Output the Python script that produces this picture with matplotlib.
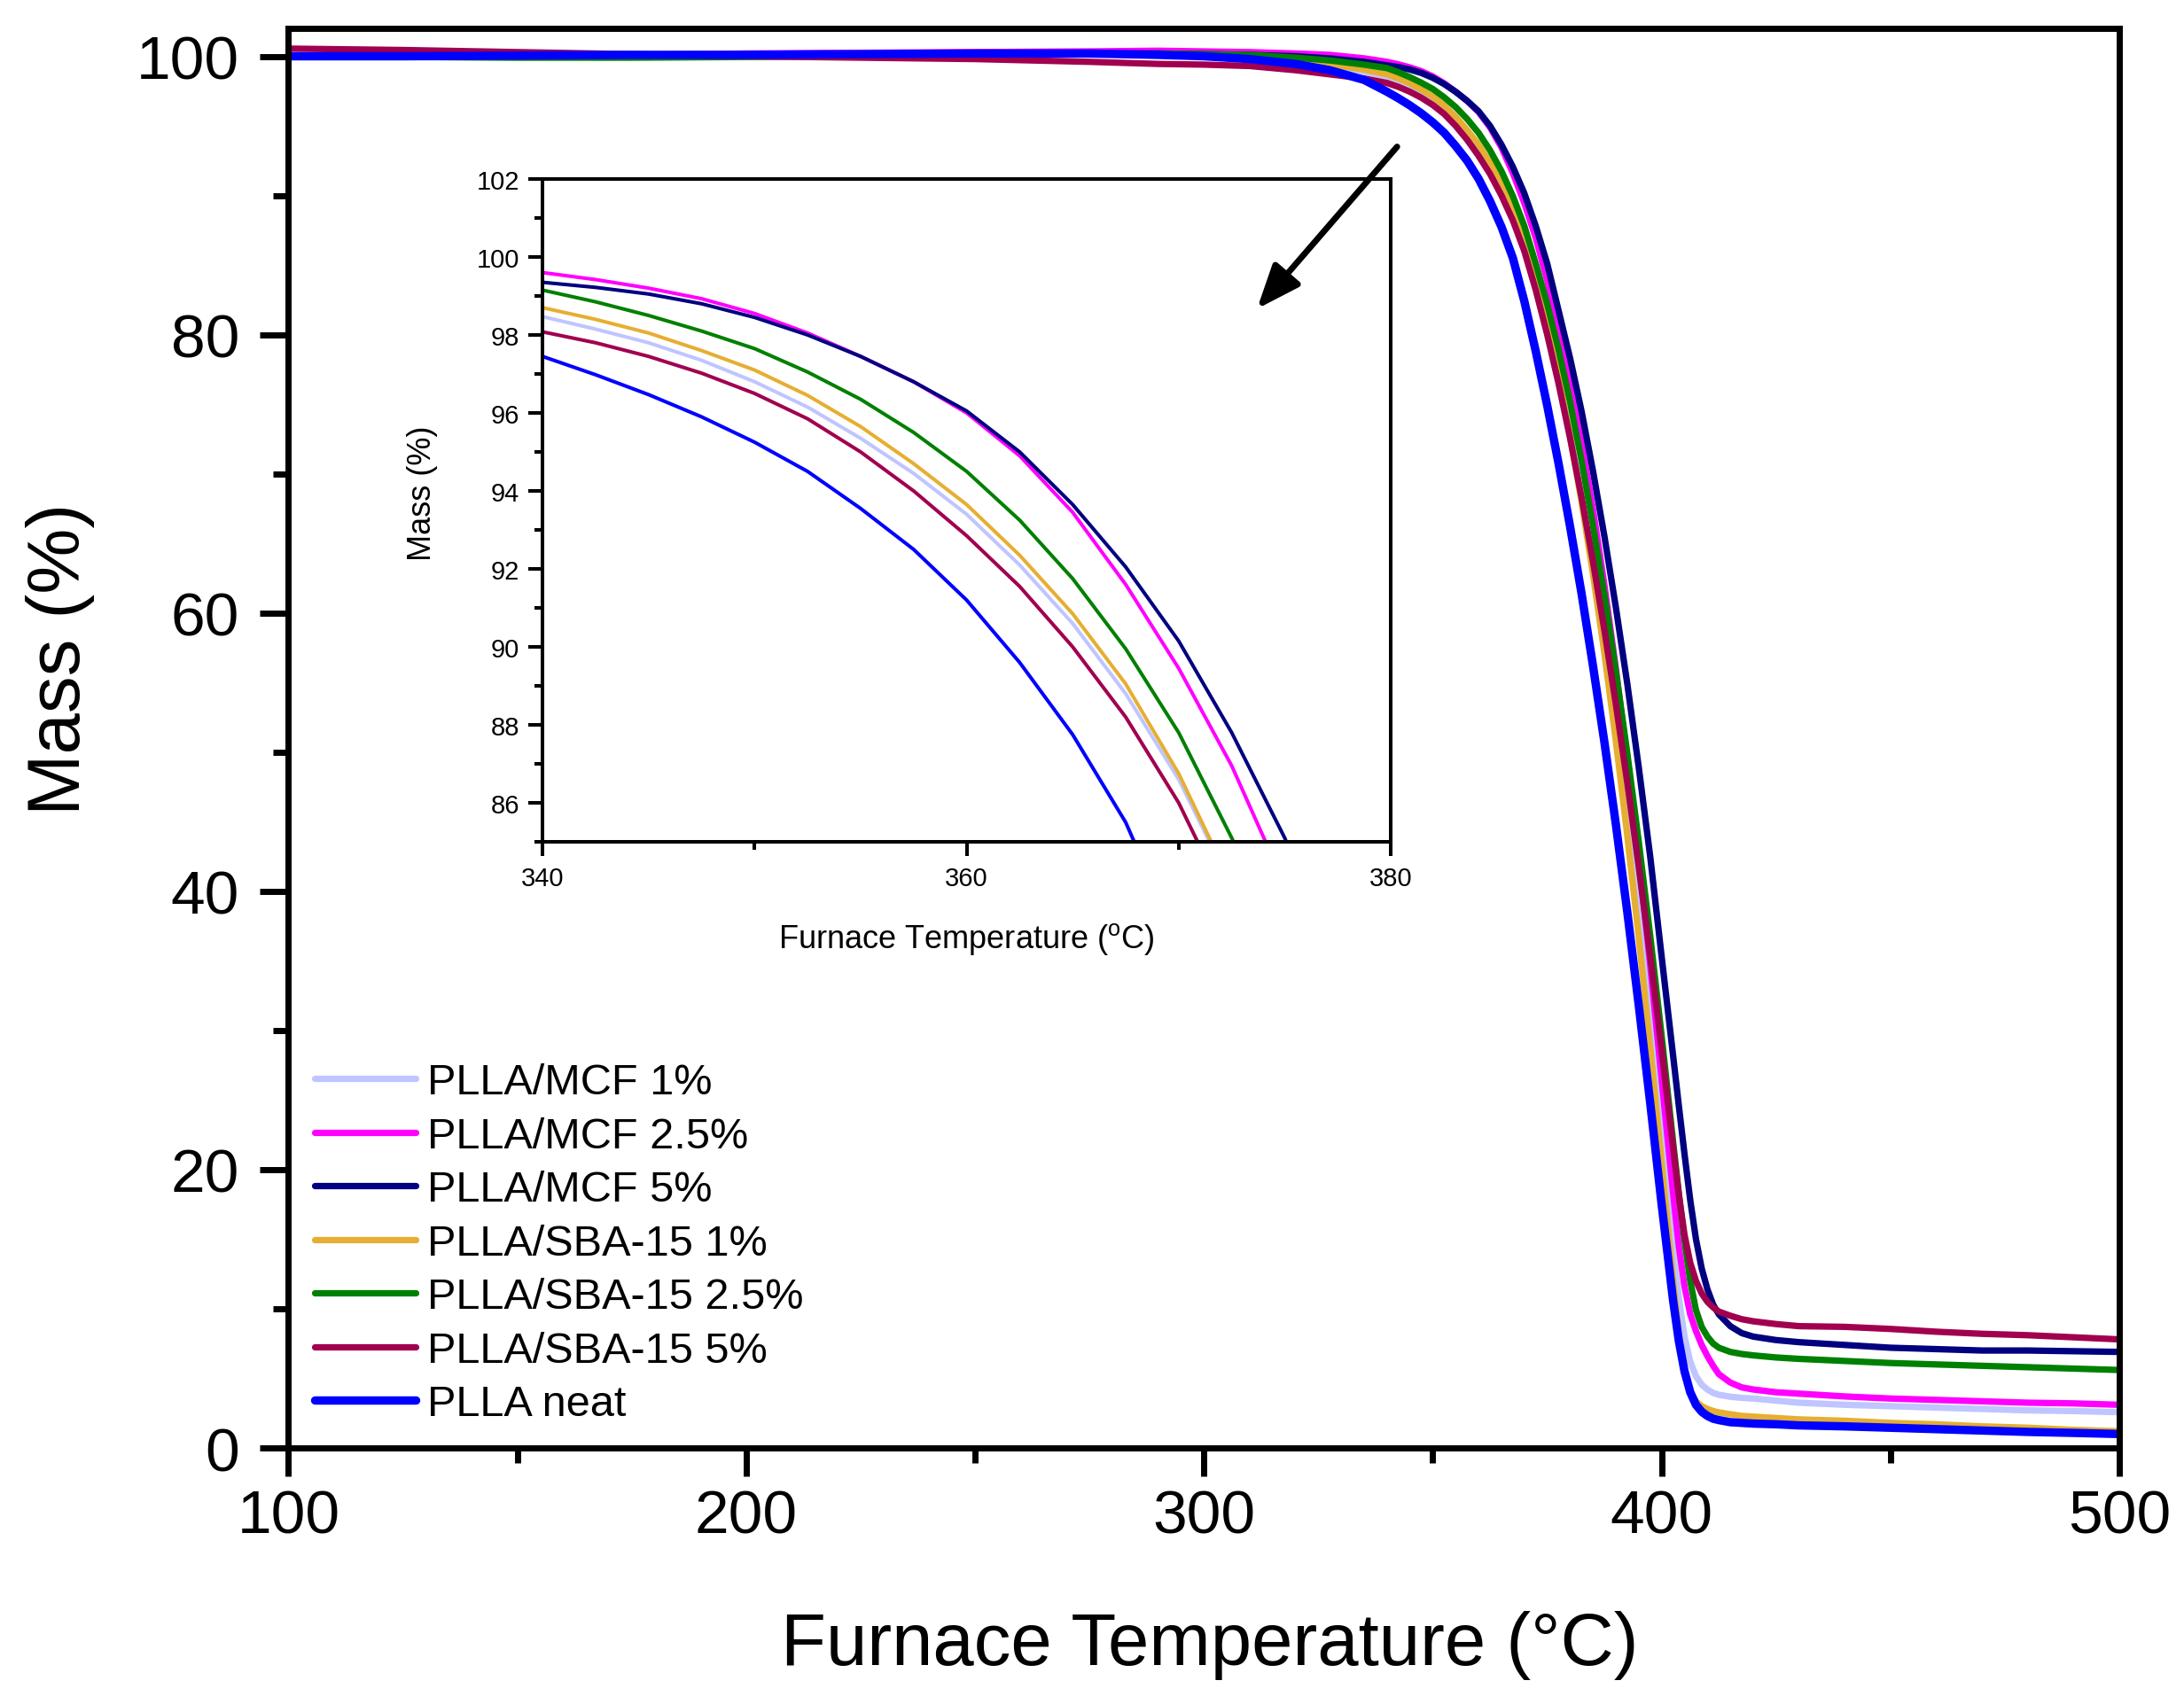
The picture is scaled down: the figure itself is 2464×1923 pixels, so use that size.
"""TGA mass-loss curves of PLLA and its MCF / SBA-15 composites, with a zoomed inset
of the onset region (340-380 C)."""
import matplotlib
matplotlib.use("Agg")
import matplotlib.pyplot as plt
from matplotlib.ticker import MultipleLocator

plt.rcParams["font.family"] = ["Liberation Sans", "DejaVu Sans"]
plt.rcParams["mathtext.fontset"] = "custom"
plt.rcParams["mathtext.rm"] = "Liberation Sans"

# furnace temperature (C), shared by all curves
temp = [100, 125, 150, 175, 200, 225, 250, 275, 290, 300,
        310, 320, 327.5, 335, 340, 342.5, 345, 347.5, 350, 352.5,
        355, 357.5, 360, 362.5, 365, 367.5, 370, 372.5, 375, 377.5,
        380, 382.5, 385, 387.5, 390, 392.5, 395, 397.5, 400, 402.5,
        403.75, 405, 406.25, 407.5, 408.75, 410, 411.25, 412.5, 415, 417.5,
        420, 425, 430, 440, 450, 460, 470, 480, 490, 500]

# mass (%)
mcf_1 = [100.0, 100.0, 100.0, 100.05, 100.1, 100.1, 100.15, 100.2, 100.15, 100.05,
         99.9, 99.6, 99.3, 98.9, 98.47, 98.15, 97.8, 97.35, 96.8, 96.15,
         95.35, 94.45, 93.4, 92.1, 90.6, 88.8, 86.6, 83.85, 80.6, 76.95,
         72.85, 68.3, 63.25, 57.75, 51.75, 45.25, 38.25, 30.8, 22.9, 14.6,
         10.8, 8.0, 6.2, 5.15, 4.55, 4.2, 3.95, 3.82, 3.68, 3.6,
         3.55, 3.4, 3.25, 3.1, 3.0, 2.9, 2.8, 2.7, 2.65, 2.57]
mcf_25 = [100.0, 100.0, 100.05, 100.1, 100.2, 100.25, 100.3, 100.35, 100.4, 100.35,
          100.3, 100.2, 100.1, 99.85, 99.6, 99.42, 99.2, 98.93, 98.55, 98.05,
          97.45, 96.8, 96.0, 94.9, 93.45, 91.6, 89.45, 86.95, 83.9, 80.4,
          76.6, 72.3, 67.45, 62.0, 56.0, 49.5, 42.4, 34.7, 26.5, 18.3,
          14.5, 11.6, 9.6, 8.4, 7.4, 6.6, 5.9, 5.3, 4.7, 4.35,
          4.2, 4.0, 3.9, 3.7, 3.55, 3.45, 3.35, 3.25, 3.2, 3.1]
mcf_5 = [100.0, 100.0, 100.0, 100.05, 100.1, 100.15, 100.2, 100.2, 100.2, 100.15,
         100.1, 100.0, 99.85, 99.6, 99.35, 99.22, 99.05, 98.8, 98.45, 98.0,
         97.45, 96.8, 96.05, 95.0, 93.65, 92.05, 90.15, 87.8, 85.1, 81.7,
         78.3, 74.5, 70.2, 65.5, 60.4, 54.9, 48.9, 42.5, 35.3, 28.2,
         24.6, 21.1, 17.8, 15.0, 12.9, 11.4, 10.3, 9.6, 8.75, 8.25,
         8.0, 7.75, 7.6, 7.4, 7.2, 7.1, 7.0, 7.0, 6.95, 6.9]
sba_1 = [100.0, 100.0, 100.0, 100.05, 100.1, 100.15, 100.2, 100.2, 100.15, 100.05,
         99.95, 99.7, 99.4, 99.05, 98.7, 98.4, 98.05, 97.6, 97.1, 96.45,
         95.65, 94.7, 93.65, 92.35, 90.85, 89.05, 86.75, 83.9, 80.6, 76.9,
         72.7, 68.0, 62.8, 57.1, 50.8, 44.0, 36.7, 28.8, 20.5, 12.0,
         8.2, 5.4, 4.0, 3.35, 3.0, 2.8, 2.65, 2.55, 2.42, 2.3,
         2.25, 2.15, 2.05, 1.95, 1.8, 1.7, 1.55, 1.45, 1.3, 1.2]
sba_25 = [100.0, 99.95, 99.9, 99.9, 99.95, 100.0, 100.1, 100.15, 100.2, 100.15,
          100.1, 99.9, 99.7, 99.4, 99.15, 98.85, 98.5, 98.1, 97.65, 97.05,
          96.35, 95.5, 94.5, 93.25, 91.75, 89.95, 87.8, 85.1, 82.2, 78.9,
          75.15, 70.95, 66.3, 61.3, 55.8, 49.9, 43.55, 36.8, 29.6, 22.0,
          18.3, 14.9, 12.0, 9.9, 8.7, 8.0, 7.5, 7.2, 6.9, 6.75,
          6.65, 6.5, 6.4, 6.25, 6.1, 6.0, 5.9, 5.8, 5.7, 5.6]
sba_5 = [100.55, 100.45, 100.3, 100.15, 100.0, 99.9, 99.8, 99.6, 99.45, 99.4,
         99.3, 99.0, 98.7, 98.4, 98.08, 97.8, 97.45, 97.02, 96.5, 95.85,
         95.0, 94.0, 92.85, 91.55, 90.0, 88.2, 86.0, 83.2, 80.0, 76.45,
         72.55, 68.3, 63.7, 58.75, 53.45, 47.8, 41.75, 35.35, 28.6, 21.6,
         18.2, 15.3, 13.3, 12.0, 11.1, 10.5, 10.1, 9.8, 9.5, 9.25,
         9.1, 8.9, 8.75, 8.7, 8.55, 8.35, 8.2, 8.1, 7.95, 7.8]
neat = [100.0, 100.0, 100.05, 100.1, 100.1, 100.15, 100.2, 100.2, 100.1, 100.0,
        99.8, 99.45, 99.0, 98.3, 97.45, 96.98, 96.47, 95.9, 95.25, 94.5,
        93.55, 92.5, 91.2, 89.6, 87.75, 85.5, 82.4, 78.8, 74.9, 70.7,
        66.2, 61.4, 56.2, 50.7, 44.8, 38.5, 31.8, 24.8, 17.5, 10.6,
        7.7, 5.5, 4.0, 3.1, 2.6, 2.3, 2.1, 2.0, 1.85, 1.8,
        1.75, 1.7, 1.62, 1.55, 1.45, 1.35, 1.25, 1.15, 1.08, 1.0]

labels = ["PLLA/MCF 1%", "PLLA/MCF 2.5%", "PLLA/MCF 5%",
          "PLLA/SBA-15 1%", "PLLA/SBA-15 2.5%", "PLLA/SBA-15 5%", "PLLA neat"]
colors = ["#BFC5FF", "#FF00FF", "#000080", "#E6AE32", "#008000", "#A1004F", "#0000FF"]
series = [mcf_1, mcf_25, mcf_5, sba_1, sba_25, sba_5, neat]


def style_axes(a, lw, major, minor, size, pad_x, pad_y):
    for s in a.spines.values():
        s.set_linewidth(lw)
    a.tick_params(which="major", direction="out", length=major, width=lw,
                  labelsize=size, top=False, right=False)
    a.tick_params(which="minor", direction="out", length=minor, width=lw,
                  top=False, right=False)
    a.tick_params(axis="x", which="major", pad=pad_x)
    a.tick_params(axis="y", which="major", pad=pad_y)


fig = plt.figure(figsize=(12.32, 9.62), dpi=200)

# main panel
ax = fig.add_axes([0.1321, 0.1502, 0.8383, 0.8326])
for y, lab, c in zip(series, labels, colors):
    lw = 3.4 if lab == "PLLA neat" else 2.6
    ax.plot(temp, y, color=c, lw=lw, label=lab, solid_capstyle="round")
ax.set_xlim(100, 500)
ax.set_ylim(0, 102)
ax.xaxis.set_major_locator(MultipleLocator(100))
ax.xaxis.set_minor_locator(MultipleLocator(50))
ax.yaxis.set_major_locator(MultipleLocator(20))
ax.yaxis.set_minor_locator(MultipleLocator(10))
style_axes(ax, 2.5, 11.5, 6, 25, 5, 8.5)
ax.set_xlabel("Furnace Temperature (°C)", fontsize=30)
ax.set_ylabel("Mass (%)", fontsize=30)
ax.xaxis.set_label_coords(0.503, -0.114)
ax.yaxis.set_label_coords(-0.106, 0.556)

ax.legend(loc="upper left", bbox_to_anchor=(355 / 2464, 1 - 1200 / 1924),
          bbox_transform=fig.transFigure, frameon=False, fontsize=17.5,
          handlelength=2.35, handletextpad=0.27, labelspacing=0.32,
          borderpad=0, borderaxespad=0)

# inset: zoom on the onset of degradation
ax_in = fig.add_axes([0.2484, 0.5057, 0.3884, 0.3888])
for y, c in zip(series, colors):
    ax_in.plot(temp, y, color=c, lw=1.45)
ax_in.set_xlim(340, 380)
ax_in.set_ylim(85, 102)
ax_in.xaxis.set_major_locator(MultipleLocator(20))
ax_in.xaxis.set_minor_locator(MultipleLocator(10))
ax_in.yaxis.set_major_locator(MultipleLocator(2))
ax_in.yaxis.set_minor_locator(MultipleLocator(1))
style_axes(ax_in, 1.45, 5.8, 3.2, 10.5, 4, 3.6)
ax_in.set_xlabel(r"Furnace Temperature ($^{\mathrm{o}}$C)", fontsize=13)
ax_in.set_ylabel("Mass (%)", fontsize=13)
ax_in.xaxis.set_label_coords(0.5, -0.119)
ax_in.yaxis.set_label_coords(-0.123, 0.527)

# arrow pointing from the main curves into the inset
ax_in.annotate("", xy=(311.6, 81.85), xycoords=ax.transData,
               xytext=(342.2, 93.5), textcoords=ax.transData,
               arrowprops=dict(arrowstyle="-|>,head_length=0.75,head_width=0.3",
                               lw=2.5, color="k", mutation_scale=20,
                               shrinkA=0, shrinkB=0),
               annotation_clip=False)

fig.savefig("out.png", dpi=200)
